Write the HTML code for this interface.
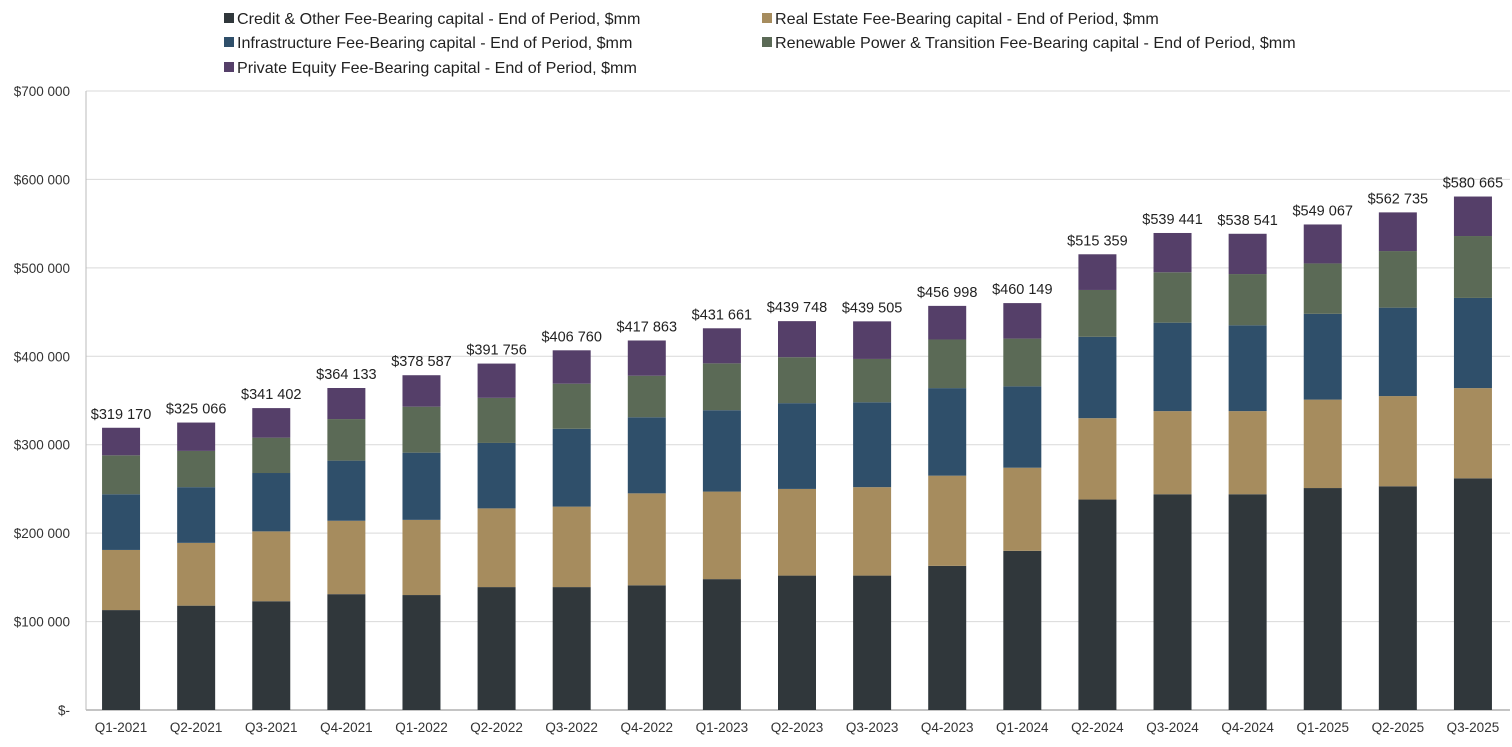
<!DOCTYPE html>
<html><head><meta charset="utf-8"><style>
body{margin:0;background:#fff;font-family:"Liberation Sans",Arial,sans-serif;}
svg text{font-family:"Liberation Sans",Arial,sans-serif;}
</style></head><body>
<svg id="chart" width="1512" height="742"></svg>
<script>
const categories=["Q1-2021","Q2-2021","Q3-2021","Q4-2021","Q1-2022","Q2-2022","Q3-2022","Q4-2022","Q1-2023","Q2-2023","Q3-2023","Q4-2023","Q1-2024","Q2-2024","Q3-2024","Q4-2024","Q1-2025","Q2-2025","Q3-2025"];
const credit=[113000,118000,123000,131000,130000,139000,139000,141000,148000,152000,152000,163000,180000,238000,244000,244000,251000,253000,262000];
const realEstate=[68000,71000,79000,83000,85000,89000,91000,104000,99000,98000,100000,102000,94000,92000,94000,94000,100000,102000,102000];
const infrastructure=[63000,63000,66000,68000,76000,74000,88000,86000,92000,97000,96000,99000,92000,92000,100000,97000,97000,100000,102000];
const renewable=[44000,41000,40000,47000,52000,51000,51000,47000,53000,52000,49000,55000,54000,53000,57000,58000,57000,64000,70000];
const totals=[319170,325066,341402,364133,378587,391756,406760,417863,431661,439748,439505,456998,460149,515359,539441,538541,549067,562735,580665];
const totalLabels=["$319 170","$325 066","$341 402","$364 133","$378 587","$391 756","$406 760","$417 863","$431 661","$439 748","$439 505","$456 998","$460 149","$515 359","$539 441","$538 541","$549 067","$562 735","$580 665"];
const yTicks=[0,100000,200000,300000,400000,500000,600000,700000];
const yTickLabels=["$-","$100 000","$200 000","$300 000","$400 000","$500 000","$600 000","$700 000"];
const seriesNames=["Credit & Other Fee-Bearing capital - End of Period, $mm","Real Estate Fee-Bearing capital - End of Period, $mm","Infrastructure Fee-Bearing capital - End of Period, $mm","Renewable Power & Transition Fee-Bearing capital - End of Period, $mm","Private Equity Fee-Bearing capital - End of Period, $mm"];
const colors=["#30373b","#a68c5e","#2f4f6a","#5b6a56","#553f69"];
const ns="http://www.w3.org/2000/svg";
const svg=document.getElementById('chart');
const X0=83.5,X1=1510.5,Y0=710,Y1=91,YMAX=700000;
const y=v=>Y0-(v/YMAX)*(Y0-Y1);
const step=(X1-X0)/categories.length;
const xc=i=>X0+step*(i+0.5);
const BW=38;
function mk(t,a){const e=document.createElementNS(ns,t);for(const k in a)e.setAttribute(k,a[k]);svg.appendChild(e);return e;}
yTicks.forEach((v,i)=>{
 const l=mk('line',{x1:86,x2:1510,y1:y(v),y2:y(v),stroke:i==0?'#888':'#d9d9d9','stroke-width':1});
 
 
 const t=mk('text',{x:70,y:y(v)+5,'text-anchor':'end','font-size':13.5,fill:'#333'});
 t.textContent=yTickLabels[i];
 
 
});
const ax=mk('line',{x1:86,x2:86,y1:Y1,y2:Y0,stroke:'#bbb'});


categories.forEach((c,i)=>{
 const pe=totals[i]-credit[i]-realEstate[i]-infrastructure[i]-renewable[i];
 const vals=[credit[i],realEstate[i],infrastructure[i],renewable[i],pe];
 let acc=0;
 vals.forEach((v,s)=>{
  const r=mk('rect',{x:xc(i)-BW/2,y:y(acc+v),width:BW,height:y(acc)-y(acc+v),fill:colors[s]});
  
  
  acc+=v;
 });
 const t=mk('text',{x:xc(i),y:y(totals[i])-9,'text-anchor':'middle','font-size':14.5,fill:'#222'});
 t.textContent=totalLabels[i];
 
 
 const xl=mk('text',{x:xc(i),y:732,'text-anchor':'middle','font-size':13.5,fill:'#333'});
 xl.textContent=c;
 
 
});
const legPos=[[224,18],[762,18],[224,42],[762,42],[224,67]];
seriesNames.forEach((n,s)=>{
 const [lx,ly]=legPos[s];
 const r=mk('rect',{x:lx,y:ly-5,width:10,height:10,fill:colors[s]});
 
 
 const t=mk('text',{x:lx+13,y:ly+6,'font-size':16.1,fill:'#222'});
 t.textContent=n;
 
 
});
</script>
</body></html>
